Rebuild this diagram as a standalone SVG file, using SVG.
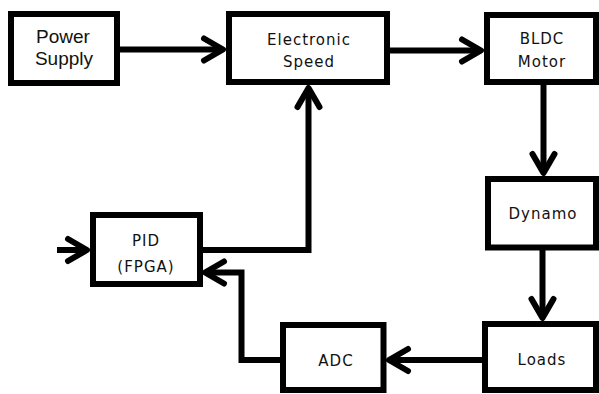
<svg xmlns="http://www.w3.org/2000/svg" width="599" height="394" viewBox="0 0 599 394">
<defs>
<marker id="arr" markerUnits="userSpaceOnUse" markerWidth="40" markerHeight="40" refX="0" refY="0" viewBox="-25 -20 30 40" orient="auto" overflow="visible">
<path d="M-19,-11 L0,0 L-19,11" fill="none" stroke="#000" stroke-width="6" stroke-linecap="round" stroke-linejoin="round"/>
</marker>
<style>
.box{fill:#fff;stroke:#000;stroke-width:6}
.lbl{font-family:"DejaVu Sans",sans-serif;font-size:15px;letter-spacing:1px;fill:#111;text-anchor:middle}
.lbl2{font-family:"Liberation Sans",Arial,sans-serif;font-size:19px;fill:#111;text-anchor:middle}
.con{fill:none;stroke:#000;stroke-width:6;marker-end:url(#arr)}
</style>
</defs>
<rect width="599" height="394" fill="#fff"/>
<g id="connectors">
<path class="con" d="M117,49.5 H223"/>
<path class="con" d="M387,50.5 H481"/>
<path class="con" d="M543.5,82 V173"/>
<path class="con" d="M542.5,248 V318"/>
<path class="con" d="M485,360 H389"/>
<path class="con" d="M283,360 H241.5 V272.5 H205"/>
<path class="con" d="M200,250 H308.5 V88"/>
<path class="con" d="M57,250 H87"/>
</g>
<g id="power-supply">
<rect class="box" x="11" y="14" width="106" height="69"/>
<text class="lbl2" x="63" y="43">Power</text>
<text class="lbl2" x="64" y="65">Supply</text>
</g>
<g id="electronic-speed">
<rect class="box" x="229" y="14" width="158" height="68"/>
<text class="lbl" x="309" y="45">Electronic</text>
<text class="lbl" x="309" y="67">Speed</text>
</g>
<g id="bldc-motor">
<rect class="box" x="487" y="15" width="109" height="67"/>
<text class="lbl" x="542" y="44">BLDC</text>
<text class="lbl" x="542" y="67">Motor</text>
</g>
<g id="dynamo">
<rect class="box" x="488" y="179" width="108" height="68.5"/>
<text class="lbl" x="543" y="219">Dynamo</text>
</g>
<g id="loads">
<rect class="box" x="485" y="324" width="111" height="66"/>
<text class="lbl" x="542" y="365">Loads</text>
</g>
<g id="adc">
<rect class="box" x="283" y="325" width="100.5" height="65"/>
<text class="lbl" x="336" y="366">ADC</text>
</g>
<g id="pid">
<rect class="box" x="93" y="215" width="107" height="69"/>
<text class="lbl" x="146" y="246">PID</text>
<text class="lbl" x="146" y="272">(FPGA)</text>
</g>
</svg>
